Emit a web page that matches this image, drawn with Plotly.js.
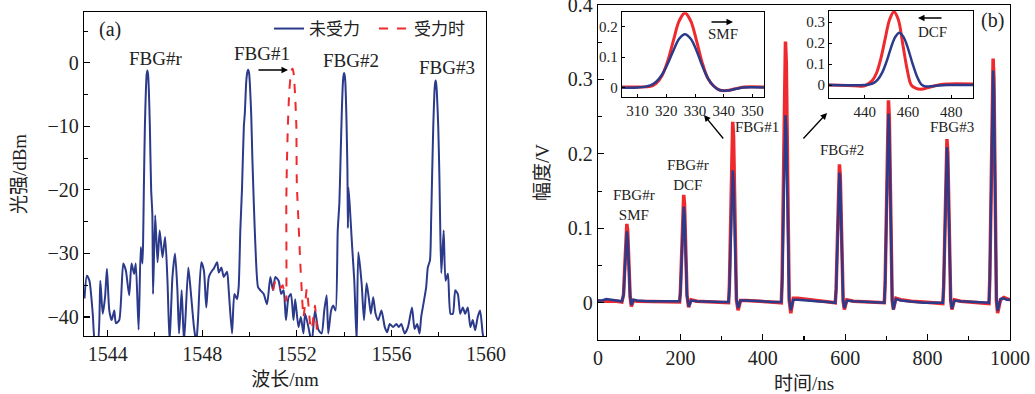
<!DOCTYPE html>
<html><head><meta charset="utf-8">
<script src="https://cdn.plot.ly/plotly-3.0.1.min.js"></script>
<style>html,body{margin:0;padding:0;background:#fff}#plot{width:1035px;height:394px}</style>
</head><body><div id="plot"></div>
<script>
// ---------- Panel (a): spectra ----------
const wlBlue = [1543.02,1543.12,1543.23,1543.37,1543.47,1543.58,1543.69,1543.79,1543.89,1543.97,1544.07,1544.17,1544.28,1544.35,1544.49,1544.66,1544.77,1544.91,1545.01,1545.12,1545.19,1545.31,1545.40,1545.47,1545.50,1545.53,1545.575,1545.62,1545.65,1545.68,1545.71,1545.74,1545.785,1545.84,1545.89,1545.92,1546.01,1546.11,1546.20,1546.32,1546.43,1546.53,1546.62,1546.74,1546.85,1546.95,1547.02,1547.13,1547.23,1547.41,1547.51,1547.65,1547.75,1547.82,1547.96,1548.07,1548.17,1548.28,1548.42,1548.49,1548.63,1548.70,1548.81,1548.91,1549.05,1549.12,1549.26,1549.36,1549.47,1549.54,1549.61,1549.68,1549.76,1549.80,1549.86,1549.90,1549.94,1549.98,1550.01,1550.07,1550.12,1550.18,1550.25,1550.36,1550.46,1550.60,1550.74,1550.88,1550.99,1551.09,1551.23,1551.34,1551.44,1551.54,1551.65,1551.75,1551.86,1551.93,1552.07,1552.17,1552.28,1552.35,1552.49,1552.63,1552.77,1552.91,1553.05,1553.16,1553.26,1553.33,1553.45,1553.54,1553.64,1553.73,1553.80,1553.85,1553.90,1553.95,1553.975,1554.00,1554.025,1554.05,1554.10,1554.14,1554.16,1554.18,1554.23,1554.34,1554.43,1554.53,1554.60,1554.74,1554.84,1554.95,1555.05,1555.13,1555.23,1555.33,1555.44,1555.58,1555.72,1555.82,1555.93,1556.07,1556.21,1556.31,1556.42,1556.56,1556.70,1556.87,1556.98,1557.09,1557.19,1557.26,1557.38,1557.47,1557.54,1557.63,1557.68,1557.72,1557.77,1557.82,1557.845,1557.87,1557.895,1557.92,1557.98,1558.03,1558.06,1558.11,1558.21,1558.29,1558.39,1558.50,1558.60,1558.70,1558.81,1558.91,1559.02,1559.12,1559.23,1559.34,1559.44,1559.54,1559.65,1559.75,1559.86,1559.93];
const dbBlue = [-37.1,-33.5,-34.3,-39.5,-44,-44,-34.3,-39.5,-36.9,-32.4,-39,-40.5,-39,-41,-40.5,-31.6,-32.7,-36.6,-31.6,-33.2,-31.6,-42,-29,-31.6,-28,-20,-10,-4,-1.8,-1.2,-1.8,-4,-10,-20,-23.8,-36.4,-24,-31.4,-26.4,-30.6,-27.4,-34.3,-44,-33.7,-30,-35.8,-42.6,-35.8,-44,-32.2,-35.8,-41.6,-44,-40.5,-31.4,-32.7,-38.5,-33.7,-32.7,-32.4,-31.4,-33,-32.2,-33.7,-32.9,-35.8,-42.6,-36.4,-37.2,-35.3,-26.4,-20,-10,-8,-3,-1.6,-1.1,-1.6,-3,-8,-15,-22,-29,-35.3,-35.8,-36.4,-38,-33.7,-35.8,-33.7,-34.3,-36.4,-35.8,-40.5,-36.9,-36.4,-40.5,-37.2,-41.6,-40,-42.6,-39.5,-41.6,-44,-39,-42,-42.6,-39,-36.6,-42.6,-39,-38.2,-39,-26.4,-22,-15,-8,-3,-2,-1.6,-2,-3,-9,-17,-26,-19.6,-22,-29,-34.3,-44,-29.8,-34.7,-40.5,-34.7,-37.2,-39.5,-36.9,-39.5,-40.5,-39,-41.6,-42.4,-41.1,-41.6,-41.1,-41.6,-41.1,-42.6,-41.6,-38.5,-41.9,-41.1,-42.6,-40,-37.4,-35.3,-32.2,-31.1,-24.8,-18,-10,-4.5,-3.3,-2.8,-3.3,-4.5,-10,-18,-24.8,-33.1,-26.4,-34.3,-33.2,-39.5,-39.5,-35.8,-36.4,-39.5,-38.5,-39.5,-38.5,-41.6,-40.5,-42.1,-40,-39,-42.6,-44];
const wlRed = [1551.00,1551.10,1551.20,1551.30,1551.40,1551.48,1551.545,1551.555,1551.58,1551.62,1551.68,1551.75,1551.785,1551.82,1551.85,1551.88,1551.94,1551.98,1552.00,1552.07,1552.14,1552.21,1552.28,1552.35,1552.42,1552.49,1552.56,1552.63,1552.70,1552.77,1552.83,1552.88];
const dbRed = [-35.8,-34.3,-34.6,-35.5,-35,-36.5,-37.5,-22,-16,-10,-4.5,-1.6,-1.1,-0.9,-1.3,-2.2,-6,-10,-19,-25,-31,-36,-40,-38,-35.6,-38,-41,-42,-40,-38.2,-41,-44];
const legendNames = ['未受力','受力时'];
const fbgLabelsA = ['FBG#r','FBG#1','FBG#2','FBG#3'];

// ---------- Panel (b): time-domain pulses ----------
const tBlue = [0,10,20,30,45,58,62,65,68,70,72,75,78,81,86,95,120,150,180,198,200,203,206,208,210,213,216,220,226,240,270,300,317,319,322,325,327,329,332,336,340,346,360,380,400,420,445,447,450,453,455,457,460,464,468,474,485,500,530,560,576,578,581,584,586,588,591,595,598,604,620,650,680,695,697,700,703,705,707,710,714,717,723,735,760,790,820,837,839,842,845,847,849,852,856,859,865,880,910,940,949,951,954,957,959,961,964,967,970,977,985,992,1000];
const vBlue = [0.003,0.003,0.005,0.004,0.003,0.002,0.01,0.043,0.088,0.096,0.088,0.043,0.008,-0.003,0.004,0.003,0.002,0.002,0.002,0.002,0.013,0.058,0.119,0.129,0.119,0.058,0.01,-0.005,0.003,0.002,0.001,0.001,0.001,0.018,0.08,0.164,0.178,0.164,0.08,0.005,-0.007,0.003,0.003,0.003,0.002,0.001,0.001,0.025,0.113,0.232,0.252,0.232,0.113,0.005,-0.01,0.004,0.004,0.003,0.002,0.001,0.0,0.018,0.079,0.161,0.175,0.161,0.079,0.003,-0.007,0.003,0.002,0.001,0.001,0.0,0.025,0.114,0.234,0.254,0.234,0.114,0.004,-0.009,0.005,0.003,0.002,0.0,0.0,0.0,0.021,0.094,0.192,0.209,0.192,0.094,0.004,-0.008,0.003,0.002,0.001,0.001,0.0,0.031,0.14,0.287,0.312,0.287,0.14,0.005,-0.011,0.005,0.006,0.004,0.004];
const tRed = [0,10,20,30,45,58,62,65,68,70,72,75,78,81,86,95,120,150,180,198,200,203,206,208,210,213,216,220,226,240,270,300,317,319,322,325,327,329,332,336,340,346,360,380,400,420,445,447,450,453,455,457,460,464,468,474,485,500,530,560,576,578,581,584,586,588,591,595,598,604,620,650,680,695,697,700,703,705,707,710,714,717,723,735,760,790,820,837,839,842,845,847,849,852,856,859,865,880,910,940,949,951,954,957,959,961,964,967,970,977,985,992,1000];
const vRed = [0.002,0.002,0.003,0.002,0.002,0.001,0.011,0.048,0.097,0.106,0.097,0.048,0.008,-0.005,0.003,0.002,0.002,0.001,0.002,0.001,0.015,0.065,0.133,0.145,0.133,0.065,0.01,-0.006,0.004,0.002,0.001,0.0,0.0,0.024,0.109,0.224,0.243,0.224,0.109,0.004,-0.01,0.003,0.003,0.002,0.002,0.001,0.0,0.035,0.158,0.323,0.351,0.323,0.158,0.004,-0.014,0.006,0.006,0.005,0.003,0.002,0.0,0.019,0.084,0.171,0.186,0.171,0.084,0.002,-0.009,0.004,0.002,0.001,0.0,0.0,0.027,0.122,0.25,0.272,0.25,0.122,0.003,-0.009,0.006,0.004,0.002,0.001,0.0,-0.001,0.022,0.099,0.202,0.22,0.202,0.099,0.003,-0.009,0.004,0.002,0.001,0.0,-0.001,0.033,0.148,0.302,0.328,0.302,0.148,0.003,-0.014,0.004,0.007,0.005,0.004];
const fbgLabelsB = ['FBG#r<br>SMF','FBG#r<br>DCF','FBG#1','FBG#2','FBG#3'];

// ---------- Insets ----------
const tSMF = [304,310,314.5,316.5,318.5,320.5,322.5,324.5,326.5,328.5,330.5,332.5,334.5,336.5,338.5,341,344,347,354];
const smfRed = [0.002,0.002,0.004,0.014,0.039,0.087,0.155,0.219,0.245,0.219,0.155,0.082,0.03,0.005,-0.008,-0.01,-0.004,0.002,0.002];
const smfBlue = [0,0,0.007,0.019,0.042,0.078,0.122,0.16,0.175,0.16,0.122,0.072,0.03,0.005,-0.008,-0.01,-0.005,0,0];
const tDCFred = [423,432,438,440,441.5,443.5,445.5,447.5,449.5,451.5,453.5,455.5,457.5,459.5,461.5,463.5,466,470,476,490];
const dcfRed = [0,-0.002,-0.005,-0.004,0.006,0.022,0.059,0.129,0.224,0.313,0.35,0.313,0.2,0.08,0.0,-0.015,-0.02,-0.01,0.004,0.005];
const tDCFblue = [423,440,442,444,446,448,450,452,454,456,458,460,462,464,466,468,472,478,490];
const dcfBlue = [0,0,0.003,0.009,0.026,0.058,0.11,0.174,0.228,0.25,0.228,0.174,0.105,0.045,0.005,-0.006,-0.004,0,0];

const W = 1035, H = 394;
const px = v => v / W, py = v => 1 - v / H;
const BLUE = '#2b3a8a', RED = '#ee2a2e';
const SERIF = 'Liberation Serif, Noto Sans CJK SC, serif';
const TXT = '#222';

const traces = [
  {x: wlBlue, y: dbBlue, xaxis: 'x', yaxis: 'y', mode: 'lines', name: legendNames[0], line: {color: BLUE, width: 2, shape: 'spline', smoothing: 0.6}},
  {x: wlRed, y: dbRed, xaxis: 'x', yaxis: 'y', mode: 'lines', name: legendNames[1], line: {color: RED, width: 2, dash: 'dash', shape: 'spline', smoothing: 0.5}},
  {x: tRed, y: vRed, xaxis: 'x2', yaxis: 'y2', mode: 'lines', showlegend: false, line: {color: RED, width: 3.5}},
  {x: tBlue, y: vBlue, xaxis: 'x2', yaxis: 'y2', mode: 'lines', showlegend: false, line: {color: BLUE, width: 2.5}},
  {x: tSMF, y: smfRed, xaxis: 'x3', yaxis: 'y3', mode: 'lines', showlegend: false, line: {color: RED, width: 3, shape: 'spline'}},
  {x: tSMF, y: smfBlue, xaxis: 'x3', yaxis: 'y3', mode: 'lines', showlegend: false, line: {color: BLUE, width: 2.5, shape: 'spline'}},
  {x: tDCFred, y: dcfRed, xaxis: 'x4', yaxis: 'y4', mode: 'lines', showlegend: false, line: {color: RED, width: 3, shape: 'spline'}},
  {x: tDCFblue, y: dcfBlue, xaxis: 'x4', yaxis: 'y4', mode: 'lines', showlegend: false, line: {color: BLUE, width: 2.5, shape: 'spline'}}
];

const mainAx = {
  showline: true, linecolor: '#000', linewidth: 1.2, mirror: true, ticks: 'inside', ticklen: 6, tickwidth: 1.2,
  tickcolor: '#000', showgrid: false, zeroline: false, tickfont: {family: SERIF, size: 20, color: TXT},
  minor: {ticks: 'inside', ticklen: 4, tickwidth: 1.1, tickcolor: '#000', showgrid: false}
};
const insetAx = {
  showline: true, linecolor: '#000', linewidth: 1, mirror: true, ticks: 'inside', ticklen: 3, tickcolor: '#000',
  showgrid: false, zeroline: false, tickfont: {family: SERIF, size: 15, color: TXT}
};

const layout = {
  width: W, height: H, margin: {l: 0, r: 0, t: 0, b: 0},
  paper_bgcolor: '#fff', plot_bgcolor: 'rgba(0,0,0,0)',
  showlegend: true,
  legend: {orientation: 'h', x: px(479), xanchor: 'right', y: py(29), yanchor: 'middle',
    font: {family: SERIF, size: 17, color: TXT}, bgcolor: 'rgba(0,0,0,0)', entrywidth: 60, entrywidthmode: 'pixels', tracegroupgap: 0},
  xaxis: Object.assign({}, mainAx, {domain: [px(84), px(486)], range: [1543, 1560], tickvals: [1544,1548,1552,1556,1560],
    minor: Object.assign({}, mainAx.minor, {dtick: 2, tick0: 1544}), anchor: 'y',
    title: {text: '波长/nm', font: {family: SERIF, size: 19, color: TXT}, standoff: 8}}),
  yaxis: Object.assign({}, mainAx, {domain: [py(336), py(12)], range: [-43, 8], tickvals: [-40,-30,-20,-10,0],
    minor: Object.assign({}, mainAx.minor, {dtick: 5, tick0: 0}), anchor: 'x',
    title: {text: '光强/dBm', font: {family: SERIF, size: 19, color: TXT}, standoff: 15}}),
  xaxis2: Object.assign({}, mainAx, {domain: [px(598), px(1010)], range: [0, 1000], tickvals: [0,200,400,600,800,1000],
    minor: Object.assign({}, mainAx.minor, {dtick: 100, tick0: 0}), anchor: 'y2',
    title: {text: '时间/ns', font: {family: SERIF, size: 19, color: TXT}, standoff: 8}}),
  yaxis2: Object.assign({}, mainAx, {domain: [py(340), py(5)], range: [-0.05, 0.4], tickvals: [0,0.1,0.2,0.3,0.4],
    ticktext: ['0','0.1','0.2','0.3','0.4'], ticklabeloverflow: 'allow',
    minor: Object.assign({}, mainAx.minor, {dtick: 0.05, tick0: 0}), anchor: 'x2',
    title: {text: '幅度/V', font: {family: SERIF, size: 19, color: TXT}, standoff: 13}}),
  xaxis3: Object.assign({}, insetAx, {domain: [px(621.7), px(764)], range: [304.5, 354], tickvals: [310,320,330,340,350], anchor: 'y3'}),
  yaxis3: Object.assign({}, insetAx, {domain: [py(96.7), py(12.3)], range: [-0.03, 0.247], tickvals: [0,0.1,0.2], ticktext: ['0','0.1','0.2'], anchor: 'x3'}),
  xaxis4: Object.assign({}, insetAx, {domain: [px(829), px(973)], range: [423.5, 490], tickvals: [440,460,480], anchor: 'y4'}),
  yaxis4: Object.assign({}, insetAx, {domain: [py(98.3), py(10.7)], range: [-0.063, 0.355], tickvals: [0,0.1,0.2,0.3], ticktext: ['0','0.1','0.2','0.3'], anchor: 'x4'}),
  shapes: [
    {type: 'rect', xref: 'paper', yref: 'paper', x0: px(621.7), x1: px(764), y0: py(96.7), y1: py(12.3), fillcolor: '#fff', line: {width: 0}, layer: 'below'},
    {type: 'rect', xref: 'paper', yref: 'paper', x0: px(829), x1: px(973), y0: py(98.3), y1: py(10.7), fillcolor: '#fff', line: {width: 0}, layer: 'below'}
  ],
  annotations: []
};

const ann = (x, y, text, size, extra) => Object.assign({xref: 'paper', yref: 'paper', x: px(x), y: py(y), text: text,
  showarrow: false, font: {family: SERIF, size: size, color: TXT}, xanchor: 'center', yanchor: 'middle'}, extra || {});
const arrow = (hx, hy, ax, ay) => ({xref: 'paper', yref: 'paper', x: px(hx), y: py(hy), ax: ax, ay: ay, text: '',
  showarrow: true, arrowhead: 2, arrowsize: 1, arrowwidth: 1.3, arrowcolor: '#000', axref: 'pixel', ayref: 'pixel'});

layout.annotations.push(
  ann(109.5, 29, '(a)', 20),
  ann(155, 58, fbgLabelsA[0], 19),
  ann(262, 54, fbgLabelsA[1], 19),
  ann(351, 60, fbgLabelsA[2], 19),
  ann(447, 67, fbgLabelsA[3], 19),
  arrow(288, 70, -31, 0),
  ann(992, 20, '(b)', 20),
  ann(634, 205, fbgLabelsB[0], 15),
  ann(688, 175, fbgLabelsB[1], 15),
  ann(757, 127, fbgLabelsB[2], 15),
  ann(842, 150, fbgLabelsB[3], 15),
  ann(952, 127, fbgLabelsB[4], 15),
  arrow(704, 115, 20.5, 25),
  arrow(827, 113, -25, 27),
  arrow(733, 22, -23, 0),
  ann(723, 34, 'SMF', 15),
  arrow(918, 18, 25, 0),
  ann(932, 32, 'DCF', 15)
);

Plotly.newPlot('plot', traces, layout, {displayModeBar: false, staticPlot: true});
</script>
</body></html>
